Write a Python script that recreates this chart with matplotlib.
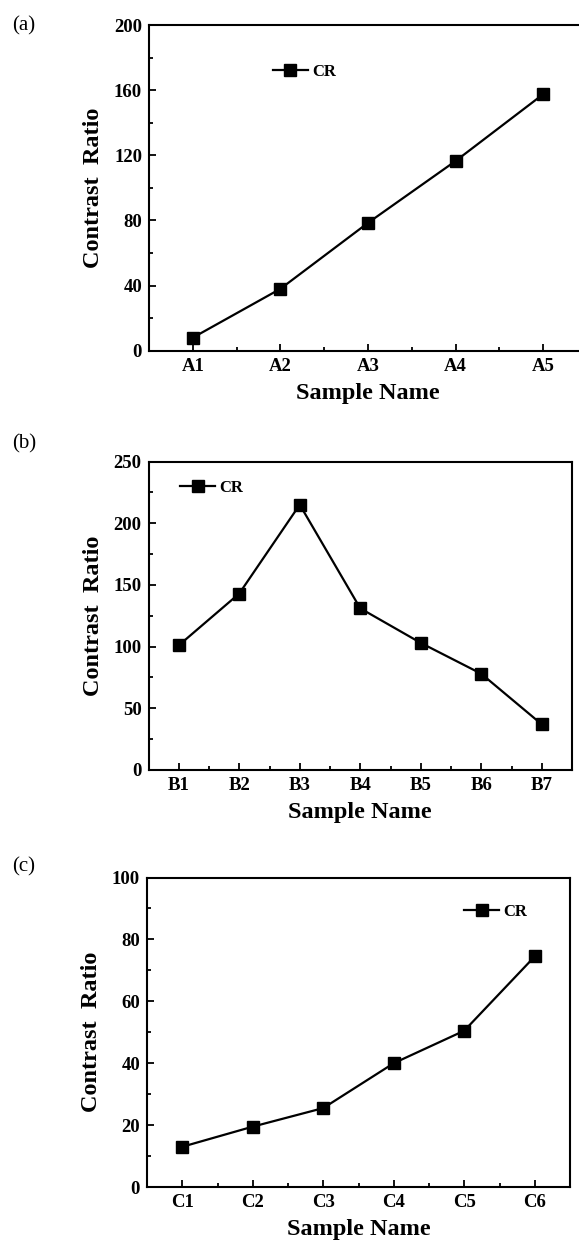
import matplotlib
matplotlib.use("Agg")
import matplotlib.pyplot as plt
from matplotlib.ticker import MultipleLocator

plt.rcParams['font.family'] = ['Liberation Serif', 'DejaVu Serif']

# ---- data ----
names_a = ["A1", "A2", "A3", "A4", "A5"]
cr_a = [8, 38, 78.5, 116.5, 157.5]

names_b = ["B1", "B2", "B3", "B4", "B5", "B6", "B7"]
cr_b = [101, 143, 215, 131, 103, 78, 37]

names_c = ["C1", "C2", "C3", "C4", "C5", "C6"]
cr_c = [13, 19.5, 25.5, 40, 50.5, 74.5]

panel_labels = ["(a)", "(b)", "(c)"]
ylims = [(0, 200), (0, 250), (0, 100)]
ymajor = [40, 50, 20]

W, H = 579, 1240
fig = plt.figure(figsize=(W / 100, H / 100), dpi=100)

def px_axes(left, right, top, bottom):
    return [left / W, 1 - bottom / H, (right - left) / W, (bottom - top) / H]

boxes = [px_axes(149, 587, 25, 350.7),
         px_axes(148.5, 572, 461.5, 770),
         px_axes(147, 570, 877.5, 1187)]
legend_anchor = [(0.283, 0.855), (0.075, 0.915), (0.75, 0.89)]
label_pos = [(12, 26), (12, 444), (12, 867)]

for i, (names, vals) in enumerate([(names_a, cr_a), (names_b, cr_b), (names_c, cr_c)]):
    ax = fig.add_axes(boxes[i])
    x = list(range(len(names)))
    ax.plot(x, vals, color='black', lw=1.6, marker='s', markersize=8.6,
            label='CR')
    ax.set_xlim(-0.5, len(names) - 0.5)
    ax.set_ylim(*ylims[i])
    ax.set_xticks(x)
    ax.set_xticklabels(names)
    ax.xaxis.set_minor_locator(MultipleLocator(0.5))
    ax.yaxis.set_major_locator(MultipleLocator(ymajor[i]))
    ax.yaxis.set_minor_locator(MultipleLocator(ymajor[i] / 2))
    ax.tick_params(which='both', direction='in', width=1.3, top=False, right=False)
    ax.tick_params(which='major', length=5, labelsize=13.5, pad=5)
    ax.tick_params(which='minor', length=3)
    for lab in ax.get_xticklabels() + ax.get_yticklabels():
        lab.set_fontweight('bold')
    for sp in ax.spines.values():
        sp.set_linewidth(1.5)
    ax.set_xlabel("Sample Name", fontsize=17.5, fontweight='bold', labelpad=6)
    ax.set_ylabel("Contrast  Ratio", fontsize=17.5, fontweight='bold', labelpad=7)
    leg = ax.legend(loc='center left', bbox_to_anchor=legend_anchor[i], frameon=False,
                    handlelength=2.1, handletextpad=0.25, borderpad=0, borderaxespad=0,
                    prop={'family': 'Liberation Serif', 'weight': 'bold', 'size': 12})
    fig.text(label_pos[i][0] / W, 1 - label_pos[i][1] / H, panel_labels[i],
             fontsize=15, ha='left', va='center')

fig.savefig("out.png", dpi=100)
